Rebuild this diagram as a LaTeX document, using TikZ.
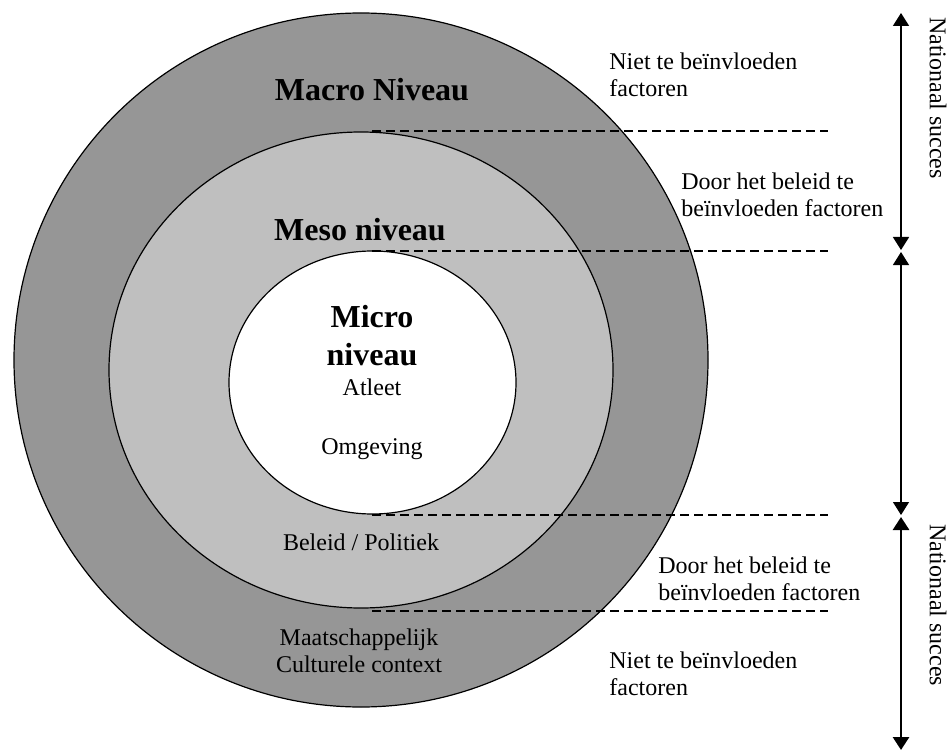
\documentclass[tikz,border=0pt]{standalone}
\usepackage{fontspec}
\setmainfont{Liberation Serif}
\usetikzlibrary{arrows.meta}
\definecolor{macrogray}{gray}{0.59}
\definecolor{mesogray}{gray}{0.75}

\begin{document}
\begin{tikzpicture}[x=1pt,y=1pt,
    txt/.style={font=\fontsize{12}{13.5}\selectfont, inner sep=0pt, align=center},
    level/.style={font=\fontsize{16}{19}\selectfont\bfseries, inner sep=0pt, align=center},
    side/.style={txt, align=left, anchor=west},
    divider/.style={dash pattern=on 4.5pt off 2.5pt, line width=0.65pt},
    span/.style={{Triangle[width=8pt,length=6.5pt]}-{Triangle[width=8pt,length=6.5pt]}, line width=0.8pt}]
    \useasboundingbox (0,0) rectangle (476,375.5);

    % Cirkels
    \draw[fill=macrogray, line width=0.6pt] (180.5,195.5) circle[radius=173.5];
    \draw[fill=mesogray, line width=0.6pt] (180.5,190.5) ellipse[x radius=126, y radius=119];
    \draw[fill=white, line width=0.6pt] (186.25,184.25) ellipse[x radius=71.75, y radius=65.75];

    % Niveaus
    \node[level] (macro) at (186,330.5) {Macro Niveau};
    \node[level] (meso) at (180,260.5) {Meso niveau};
    \node[level] (micro) at (186,207.5) {Micro\\niveau};
    \node[txt] (atleet) at (186,182) {Atleet};
    \node[txt] (omgeving) at (186,151) {Omgeving};
    \node[txt] (beleid) at (180.5,104.5) {Beleid / Politiek};
    \node[txt] (context) at (179.5,50) {Maatschappelijk\\Culturele context};

    % Scheidingslijnen
    \coordinate (d1a) at (186,310);   \coordinate (d1b) at (414,310);
    \coordinate (d2a) at (186,250);   \coordinate (d2b) at (414,250);
    \coordinate (d3a) at (186,118);   \coordinate (d3b) at (414,118);
    \coordinate (d4a) at (186,70);    \coordinate (d4b) at (414,70);
    \draw[divider] (d1a) -- (d1b);
    \draw[divider] (d2a) -- (d2b);
    \draw[divider] (d3a) -- (d3b);
    \draw[divider] (d4a) -- (d4b);

    % Factoren
    \node[side] (niet1) at (304.5,338.25) {Niet te beïnvloeden\\factoren};
    \node[side] (door1) at (340.5,278) {Door het beleid te\\beïnvloeden factoren};
    \node[side] (door2) at (329,86.25) {Door het beleid te\\beïnvloeden factoren};
    \node[side] (niet2) at (304.5,38.5) {Niet te beïnvloeden\\factoren};

    % Pijlen rechts
    \coordinate (a1) at (450.5,369);
    \coordinate (a2) at (450.5,250.5);
    \coordinate (a3) at (450.5,249.5);
    \coordinate (a4) at (450.5,118);
    \coordinate (a5) at (450.5,117);
    \coordinate (a6) at (450.5,0.5);
    \draw[span] (a1) -- (a2);
    \draw[span, line width=0.6pt] (a3) -- (a4);
    \draw[span, line width=1.4pt] (a5) -- (a6);

    \node[txt, rotate=-90] (succes1) at (469,326.5) {Nationaal succes};
    \node[txt, rotate=-90] (succes2) at (469,73) {Nationaal succes};
\end{tikzpicture}
\end{document}
